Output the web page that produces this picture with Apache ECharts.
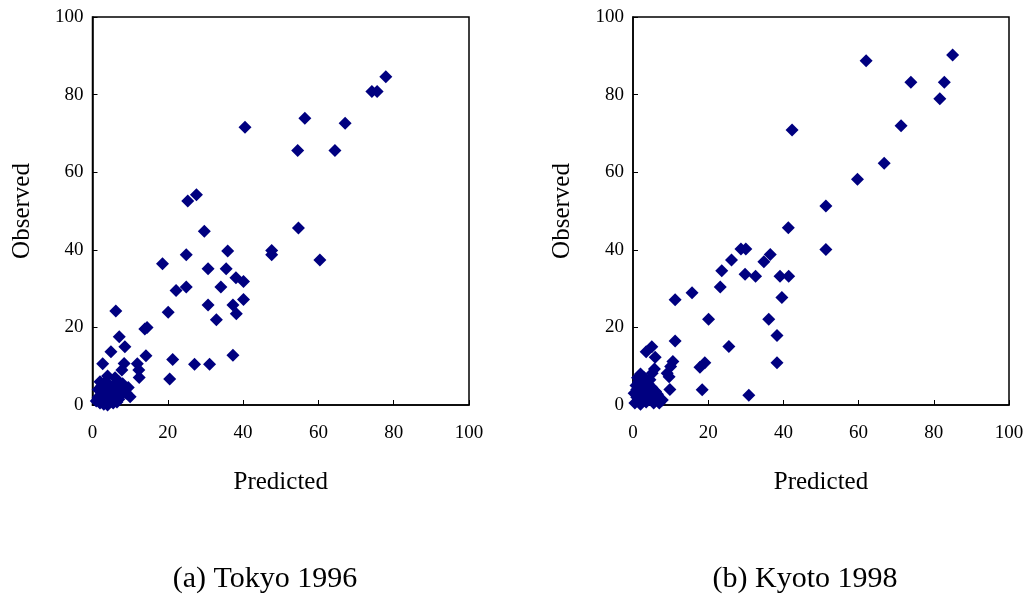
<!DOCTYPE html>
<html>
<head>
<meta charset="utf-8">
<script src="https://cdn.jsdelivr.net/npm/echarts@6/dist/echarts.min.js"></script>
<style>
html,body{margin:0;padding:0;background:#fff;}
#chart{width:1029px;height:602px;}
</style>
</head>
<body>
<div id="chart"></div>
<script>
// Panel titles and axis names
var panelTitles = ["(a) Tokyo 1996", "(b) Kyoto 1998"];
var xName = "Predicted";
var yName = "Observed";
var axisTicks = [0, 20, 40, 60, 80, 100];

// (a) Tokyo 1996: [predicted, observed]
var tokyo1996 = [
  [77.9,84.6],[74.2,80.8],[75.6,80.8],[40.5,71.6],[56.4,73.9],[67.1,72.6],[54.5,65.6],[64.4,65.6],
  [27.6,54.2],[25.3,52.6],[29.7,44.8],[54.7,45.6],[35.9,39.7],[47.6,39.8],[47.6,38.7],[18.6,36.4],
  [24.9,38.7],[60.4,37.4],[30.7,35.1],[35.5,35.1],[38.1,32.8],[40.1,31.8],[22.2,29.5],[24.9,30.4],
  [34.1,30.4],[30.7,25.8],[37.3,25.8],[40.1,27.2],[38.2,23.5],[32.9,22.0],[20.1,23.9],[6.2,24.2],
  [13.9,19.6],[14.5,20.0],[7.1,17.6],[8.6,15.0],[4.9,13.7],[14.2,12.7],[21.3,11.7],[2.7,10.6],
  [8.4,10.7],[11.9,10.6],[12.3,9.0],[12.4,7.1],[27.1,10.5],[31.1,10.5],[37.3,12.8],[20.5,6.7],
  [7.8,9.0],[2.0,6.0],[10.0,2.1],
  [1.0,1.0],[1.5,2.0],[2.0,0.5],[2.5,3.0],[3.0,1.5],[3.0,4.5],[3.5,2.5],[4.0,0.0],[4.0,3.5],
  [4.5,1.0],[4.5,5.0],[5.0,2.0],[5.0,4.0],[5.5,3.0],[5.5,0.5],[6.0,5.5],[6.0,2.0],[6.5,3.5],
  [7.0,1.5],[7.0,4.5],[7.5,2.5],[8.0,3.5],[8.0,5.5],[8.5,4.0],[9.0,3.0],[2.0,2.0],[3.5,6.0],
  [2.5,5.0],[1.5,4.0],[6.0,7.0],[7.0,6.0],[4.0,7.5],[9.5,4.5],[5.0,1.0],[3.0,0.2],[6.5,0.8]
];

// (b) Kyoto 1998: [predicted, observed]
var kyoto1998 = [
  [85.0,90.2],[62.0,88.7],[73.9,83.2],[82.8,83.2],[81.6,78.9],[71.3,72.0],[42.3,70.9],[66.8,62.3],
  [59.7,58.2],[51.3,51.3],[51.3,40.1],[41.3,45.7],[28.7,40.2],[30.0,40.2],[26.2,37.4],[36.5,38.8],
  [34.8,36.9],[23.6,34.6],[29.8,33.7],[32.6,33.2],[39.1,33.2],[41.4,33.2],[23.2,30.4],[39.6,27.7],
  [15.7,28.9],[11.2,27.1],[20.1,22.1],[36.1,22.1],[38.3,17.9],[25.5,15.1],[11.2,16.5],[19.1,10.9],
  [17.8,9.7],[38.3,10.9],[18.4,3.9],[30.8,2.5],[3.5,13.7],[5.0,15.0],[5.9,12.3],[10.6,11.2],
  [10.0,9.9],[9.1,8.2],[9.6,7.3],[5.7,9.3],[5.1,8.2],[9.8,4.0],[7.8,1.3],
  [0.5,0.5],[1.0,2.0],[1.0,4.0],[1.5,1.0],[1.5,6.0],[2.0,3.0],[2.0,0.2],[2.5,5.0],[2.5,1.5],
  [3.0,2.5],[3.0,7.0],[3.5,4.0],[3.5,0.8],[4.0,3.0],[4.0,5.5],[4.5,1.5],[5.0,2.5],[5.0,4.5],
  [5.5,0.5],[6.0,3.5],[6.0,1.8],[0.8,5.0],[1.2,7.0],[2.0,8.0],[4.5,6.5],[6.5,2.8],[0.3,3.0],
  [1.8,2.5],[3.2,1.2],[7.0,0.5]
];

var serif = "'Liberation Serif','Times New Roman',serif";
var chart = echarts.init(document.getElementById('chart'), null, {renderer:'canvas'});

function xAxisCfg(i){
  return {
    gridIndex:i, type:'value', min:axisTicks[0], max:axisTicks[axisTicks.length-1], interval:axisTicks[1]-axisTicks[0],
    axisLine:{show:true, onZero:false, lineStyle:{color:'#000', width:1.5}},
    axisTick:{show:true, inside:true, length:5, lineStyle:{color:'#000', width:1}},
    splitLine:{show:false},
    axisLabel:{color:'#000', fontFamily:serif, fontSize:19, margin:19},
    name:xName, nameLocation:'middle', nameGap:65,
    nameTextStyle:{color:'#000', fontFamily:serif, fontSize:25}
  };
}
function yAxisCfg(i){
  return {
    gridIndex:i, type:'value', min:axisTicks[0], max:axisTicks[axisTicks.length-1], interval:axisTicks[1]-axisTicks[0],
    axisLine:{show:true, onZero:false, lineStyle:{color:'#000', width:1.5}},
    axisTick:{show:true, inside:true, length:5, lineStyle:{color:'#000', width:1}},
    splitLine:{show:false},
    axisLabel:{color:'#000', fontFamily:serif, fontSize:19, margin:9},
    name:yName, nameLocation:'middle', nameGap:58,
    nameTextStyle:{color:'#000', fontFamily:serif, fontSize:25}
  };
}

var option = {
  backgroundColor:'#fff',
  animation:false,
  title:[
    {text:panelTitles[0], left:260, top:559, textAlign:'center',
     textStyle:{color:'#000', fontFamily:serif, fontSize:30, fontWeight:'normal'}},
    {text:panelTitles[1], left:800, top:559, textAlign:'center',
     textStyle:{color:'#000', fontFamily:serif, fontSize:30, fontWeight:'normal'}}
  ],
  grid:[
    {left:92.5, right:560, top:17, bottom:197, show:true, borderColor:'#000', borderWidth:1.5, backgroundColor:'#fff'},
    {left:633, right:20, top:17, bottom:197, show:true, borderColor:'#000', borderWidth:1.5, backgroundColor:'#fff'}
  ],
  xAxis:[xAxisCfg(0), xAxisCfg(1)],
  yAxis:[yAxisCfg(0), yAxisCfg(1)],
  series:[
    {type:'scatter', xAxisIndex:0, yAxisIndex:0, data:tokyo1996, symbol:'diamond', symbolSize:13,
     itemStyle:{color:'#000080', opacity:1}, clip:false},
    {type:'scatter', xAxisIndex:1, yAxisIndex:1, data:kyoto1998, symbol:'diamond', symbolSize:13,
     itemStyle:{color:'#000080', opacity:1}, clip:false}
  ]
};
chart.setOption(option);
</script>
</body>
</html>
